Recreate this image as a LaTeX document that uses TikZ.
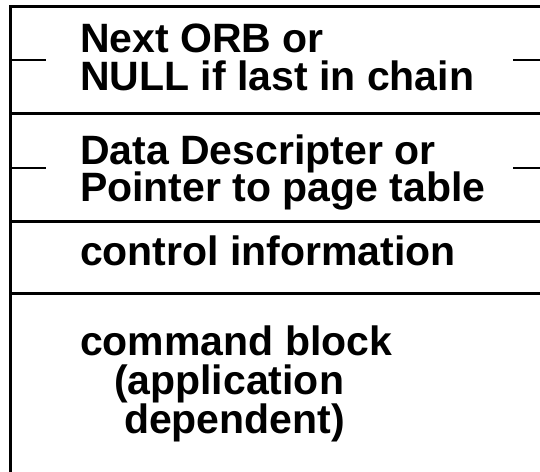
\documentclass[tikz,border=0pt]{standalone}
\usepackage{fontspec}
\setmainfont{Liberation Sans}
\begin{document}
\begin{tikzpicture}[x=1pt,y=1pt,
  border/.style={line width=3pt},
  tick/.style={line width=2pt},
  lbl/.style={anchor=base west,inner sep=0pt,outer sep=0pt,font=\fontsize{41}{41}\selectfont\bfseries}]
\useasboundingbox[fill=white] (0,0) rectangle (540,-471);
% frame
\coordinate (tl) at (10.5,-6);
\coordinate (tr) at (541,-6);
\coordinate (bl) at (10.5,-472);
\coordinate (l1) at (10.5,-113);
\coordinate (r1) at (541,-113);
\coordinate (l2) at (10.5,-221);
\coordinate (r2) at (541,-221);
\coordinate (l3) at (10.5,-293);
\coordinate (r3) at (541,-293);
\draw[border] (tr) -- (tl) -- (bl);
\draw[border] (l1) -- (r1);
\draw[border] (l2) -- (r2);
\draw[border] (l3) -- (r3);
% ticks
\coordinate (t1a) at (10.5,-60); \coordinate (t1b) at (46,-60);
\coordinate (t1c) at (513,-60);  \coordinate (t1d) at (541,-60);
\coordinate (t2a) at (10.5,-168); \coordinate (t2b) at (46,-168);
\coordinate (t2c) at (513,-168);  \coordinate (t2d) at (541,-168);
\draw[tick] (t1a) -- (t1b);
\draw[tick] (t1c) -- (t1d);
\draw[tick] (t2a) -- (t2b);
\draw[tick] (t2c) -- (t2d);
% texts
\node[lbl] (a1) at (80,-52) {Next ORB or};
\node[lbl] (a2) at (80,-90) {NULL if last in chain};
\node[lbl] (b1) at (80,-164) {Data Descripter or};
\node[lbl] (b2) at (80,-201) {Pointer to page table};
\node[lbl] (c1) at (80,-265) {control information};
\node[lbl] (d1) at (80,-355) {command block};
\node[lbl] (d2) at (114,-394) {(application};
\node[lbl] (d3) at (124,-433) {dependent)};
\end{tikzpicture}
\end{document}
